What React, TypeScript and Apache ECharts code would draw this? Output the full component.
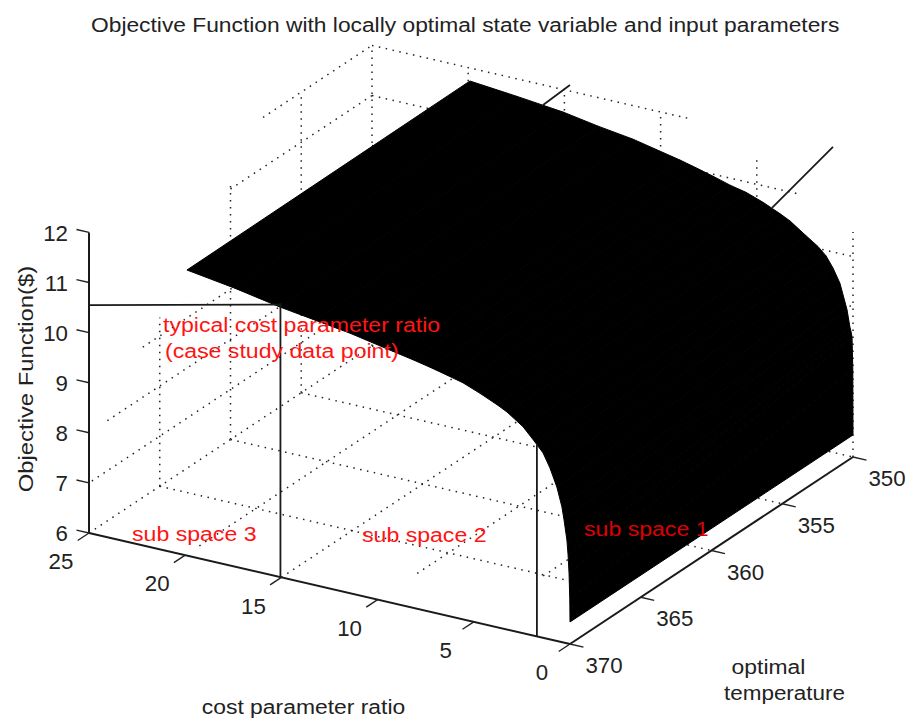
import React, { useEffect, useRef } from "react";
import * as echarts from "echarts";

const WIDTH = 907;
const HEIGHT = 719;
const FONT = '"Liberation Sans", Arial, sans-serif';
const INK = "#222222";
const RED = "#ff1414";

const titleText = "Objective Function with locally optimal state variable and input parameters";
const ratioTicks = [25, 20, 15, 10, 5, 0];
const tempTicks = [370, 365, 360, 355, 350];
const objectiveTicks = [6, 7, 8, 9, 10, 11, 12];

// Surface profile: cost ratio -> objective at both temperature ends
const surfaceRatio = [19.91, 17.46, 15.07, 13.25, 11.43, 8.99, 8.16, 7.28, 6.39, 5.56, 4.68, 3.79, 3.27, 2.44, 1.82, 1.4, 1.04, 0.68, 0.42, 0.31, 0.16, 0.1, 0.05, 0.01, 0];
const objectiveAt370 = [11.7, 11.56, 11.39, 11.29, 11.19, 11.01, 10.95, 10.88, 10.8, 10.72, 10.59, 10.44, 10.34, 10.12, 9.87, 9.69, 9.42, 9.07, 8.7, 8.45, 8.06, 7.77, 7.41, 6.88, 6.44];
const objectiveAt350 = [11.74, 11.65, 11.55, 11.43, 11.33, 11.13, 11.05, 10.96, 10.86, 10.79, 10.67, 10.52, 10.42, 10.2, 10.04, 9.89, 9.68, 9.41, 9.06, 8.91, 8.58, 8.49, 8.39, 7.74, 6.44];

// Dotted grid: [ratio, temp, objective] -> [ratio, temp, objective]
const floorTempLines = [
  [25, 365, 6, 1.7, 365, 6],
  [25, 360, 6, 0, 360, 6],
  [25, 355, 6, 0, 355, 6],
  [25, 350, 6, 0, 350, 6],
];
const floorRatioLines = [
  [25, 370, 6, 25, 350, 6],
  [20, 369, 6, 20, 350, 6],
  [15, 370, 6, 15, 350, 6],
  [10, 367.2, 6, 10, 350, 6],
  [5, 365.1, 6, 5, 350, 6],
];
const leftWallLines = [
  [25, 369.8, 7, 25, 350, 7],
  [25, 368.7, 8, 25, 350, 8],
  [25, 366.2, 9, 25, 350, 9],
  [25, 360, 11, 25, 350, 11],
  [25, 357.7, 12, 25, 350, 12],
];
const leftWallVerticals = [
  [25, 365, 6, 25, 365, 9.37],
  [25, 360, 6, 25, 360, 11.14],
  [25, 355, 6, 25, 355, 12],
  [25, 350, 6, 25, 350, 12],
];
const backWallLines = [
  [25, 350, 9, 0, 350, 9],
  [25, 350, 10, 0, 350, 10],
  [25, 350, 11, 2.75, 350, 11],
  [25, 350, 12, 8.6, 350, 12],
];
const backWallVerticals = [
  [20, 350, 6, 20, 350, 12],
  [15, 350, 6, 15, 350, 12],
  [10, 350, 6, 10, 350, 12],
  [5, 350, 6, 5, 350, 11.48],
  [0, 350, 6, 0, 350, 10.49],
];

// Solid annotation lines
const annotationLines = [
  [15.05, 370, 6, 15.05, 370, 11.47],
  [25, 370, 10.55, 15.05, 370, 11.44],
  [1.72, 370, 6, 1.72, 370, 9.83],
  [16.11, 350, 11.6, 14.71, 350, 12.12],
  [4.21, 350, 10.6, 1.04, 350, 12.1],
];

const redNotes = [
  { text: "typical cost parameter ratio", x: 163, y: 325, fill: RED },
  { text: "(case study data point)", x: 165, y: 351, fill: RED },
  { text: "sub space 3", x: 132, y: 534, fill: RED },
  { text: "sub space 2", x: 362, y: 535, fill: RED },
  { text: "sub space 1", x: 584, y: 529, fill: "#dd0000" },
];

// Orthographic view of the 3D box, in page pixels
function project(ratio: number, temp: number, obj: number): [number, number] {
  const a = 25 - ratio;
  const b = 370 - temp;
  return [89 + 19.24 * a + 14.15 * b, 533 + 4.44 * a - 9.35 * b - 50.1 * (obj - 6)];
}

function segmentSeries(name: string, segments: number[][], style: any, z: number) {
  return {
    type: "custom",
    name,
    coordinateSystem: "cartesian2d",
    silent: true,
    clip: false,
    z,
    data: segments,
    renderItem: (_: any, api: any) => {
      const a = api.coord(project(api.value(0), api.value(1), api.value(2)));
      const b = api.coord(project(api.value(3), api.value(4), api.value(5)));
      return {
        type: "line",
        shape: { x1: a[0], y1: a[1], x2: b[0], y2: b[1] },
        style: { fill: null, ...style },
      };
    },
  };
}

function tickLabelSeries(name: string, values: number[], at: (v: number) => [number, number, number], dx: number, dy: number, align: string) {
  return {
    type: "custom",
    name,
    coordinateSystem: "cartesian2d",
    silent: true,
    clip: false,
    z: 20,
    data: values.map((v) => [v]),
    renderItem: (_: any, api: any) => {
      const v = api.value(0);
      const [r, t, o] = at(v);
      const c = api.coord(project(r, t, o));
      return {
        type: "text",
        x: c[0] + dx,
        y: c[1] + dy,
        scaleX: 0.97,
        style: {
          text: String(v),
          fill: INK,
          font: `23px ${FONT}`,
          textAlign: align,
          textVerticalAlign: "middle",
        },
      };
    },
  };
}

const dotted = { stroke: "#222222", lineWidth: 1.5, lineDash: [1.5, 5.5] };
const solid = { stroke: "#1a1a1a", lineWidth: 1.8 };

function caption(text: string, x: number, y: number, scaleX: number, align = "center", extra: any = {}) {
  return {
    type: "text",
    x,
    y,
    scaleX,
    z: 30,
    ...extra,
    style: { text, fill: INK, font: `21px ${FONT}`, textAlign: align, textVerticalAlign: "middle" },
  };
}

export default function App() {
  const ref = useRef<HTMLDivElement>(null);
  useEffect(() => {
    const chart = echarts.init(ref.current!, undefined, { renderer: "svg" });

    const surfaceStrips = surfaceRatio.slice(0, -1).map((r, i) => [
      r,
      objectiveAt370[i],
      objectiveAt350[i],
      surfaceRatio[i + 1],
      objectiveAt370[i + 1],
      objectiveAt350[i + 1],
    ]);

    const axisSegments = [
      [25, 370, 6, 25, 370, 12],
      [25, 370, 6, 0, 370, 6],
      [0, 370, 6, 0, 350, 6],
    ];
    const tickSegments = [
      ...objectiveTicks.map((o) => [25, 370, o, 25.65, 370, o]),
      ...ratioTicks.map((r) => [r, 370, 6, r, 370.8, 6]),
      ...tempTicks.map((t) => [0, t, 6, -0.7, t, 6]),
    ];

    chart.setOption({
      animation: false,
      backgroundColor: "#ffffff",
      grid: { left: 0, right: 0, top: 0, bottom: 0 },
      xAxis: { type: "value", min: 0, max: WIDTH, show: false },
      yAxis: { type: "value", min: 0, max: HEIGHT, inverse: true, show: false },
      series: [
        segmentSeries(
          "grid",
          [...floorTempLines, ...floorRatioLines, ...leftWallLines, ...leftWallVerticals, ...backWallLines, ...backWallVerticals],
          dotted,
          2
        ),
        {
          type: "custom",
          name: "surface",
          coordinateSystem: "cartesian2d",
          silent: true,
          clip: false,
          z: 5,
          data: surfaceStrips,
          renderItem: (_: any, api: any) => {
            const pts = [
              api.coord(project(api.value(0), 370, api.value(1))),
              api.coord(project(api.value(3), 370, api.value(4))),
              api.coord(project(api.value(3), 350, api.value(5))),
              api.coord(project(api.value(0), 350, api.value(2))),
            ];
            return {
              type: "polygon",
              shape: { points: pts },
              style: { fill: "#000000", stroke: "#000000", lineWidth: 1 },
            };
          },
        },
        segmentSeries("annotations", annotationLines, solid, 8),
        segmentSeries("axes", axisSegments, { stroke: "#1a1a1a", lineWidth: 2 }, 9),
        segmentSeries("ticks", tickSegments, { stroke: "#222222", lineWidth: 1.4 }, 9),
        tickLabelSeries("objective ticks", objectiveTicks, (v) => [25, 370, v], -21, 0, "right"),
        tickLabelSeries("ratio ticks", ratioTicks, (v) => [v, 370, 6], -28, 28, "center"),
        tickLabelSeries("temperature ticks", tempTicks, (v) => [0, v, 6], 34, 21, "center"),
      ],
      graphic: [
        caption(titleText, 91, 25, 1.085, "left", {}),
        caption("Objective Function($)", 26, 379, 1.135, "center", { rotation: Math.PI / 2 }),
        caption("cost parameter ratio", 303.5, 707, 1.09),
        caption("optimal", 768.5, 667, 1.09),
        caption("temperature", 784.5, 693, 1.07),
        ...redNotes.map((n) => ({
          type: "text",
          x: n.x,
          y: n.y,
          scaleX: 1.1,
          z: 31,
          style: { text: n.text, fill: n.fill, font: `21px ${FONT}`, textAlign: "left", textVerticalAlign: "middle" },
        })),
      ],
    });
    return () => chart.dispose();
  }, []);
  return <div ref={ref} style={{ position: "absolute", left: 0, top: 0, width: WIDTH, height: HEIGHT }} />;
}
